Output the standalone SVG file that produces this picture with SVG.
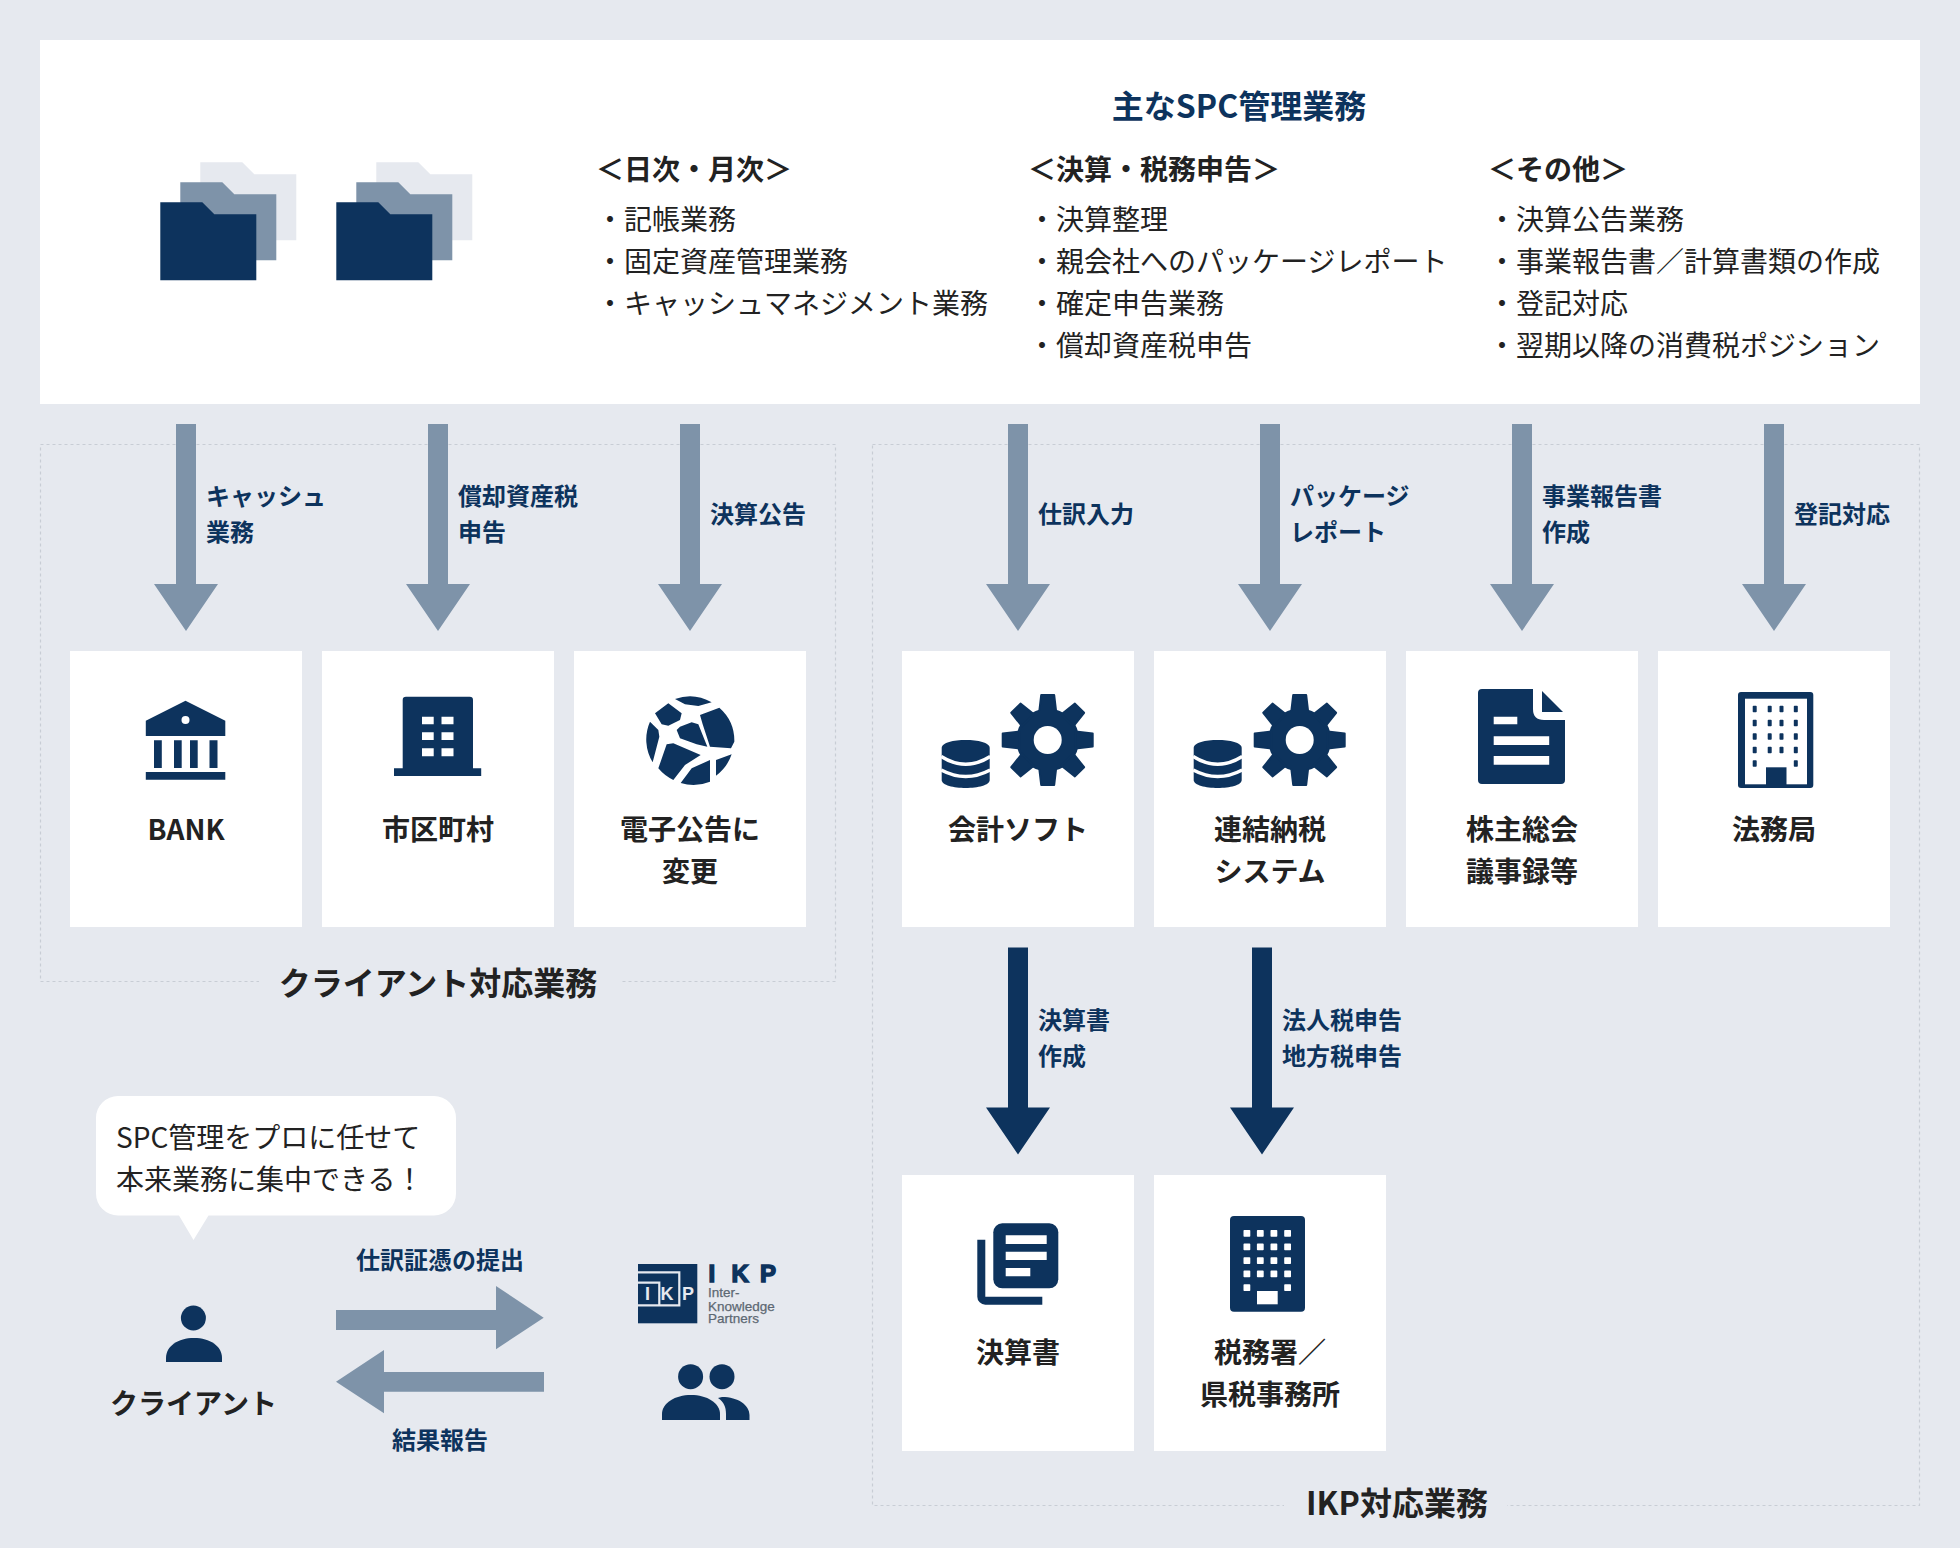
<svg xmlns="http://www.w3.org/2000/svg" width="1960" height="1548" viewBox="0 0 1960 1548">
<style>
text{font-family:"Noto Sans CJK JP","Noto Sans",sans-serif}
.navy{fill:#0d335d}.mid{fill:#7e93a9}.pale{fill:#e6e9ef}.w{fill:#fff}
.title{font-size:32px;font-weight:700;fill:#0d335d;text-anchor:middle}
.head{font-size:28px;font-weight:700;fill:#222}
.item{font-size:28px;fill:#222}
.lab{font-size:24px;font-weight:700;fill:#0d335d}
.lc{text-anchor:middle}
.name{font-size:28px;font-weight:700;fill:#222;text-anchor:middle}
.sec{font-size:32px;font-weight:700;fill:#222;text-anchor:middle}
.say{font-size:28px;fill:#222}
.dash{fill:none;stroke:#c8cdd5;stroke-width:1.2;stroke-dasharray:3 3}
.logo-line{fill:none;stroke:#e6e9ef;stroke-width:2.2}
.logo-big{font-family:"Liberation Sans",Arial,sans-serif;font-size:24px;font-weight:700;fill:#0d335d;stroke:#0d335d;stroke-width:1.5}
.logo-in{font-family:"Liberation Sans",Arial,sans-serif;font-size:18px;font-weight:700;fill:#e6e9ef}
.logo-sm{font-family:"Liberation Sans",Arial,sans-serif;font-size:13.5px;fill:#5d6873;stroke:#5d6873;stroke-width:.25}
.rw{fill:#fff;stroke:#fff;stroke-width:1.6;stroke-linejoin:round}
.rn{fill:#0d335d;stroke:#0d335d;stroke-width:1.6;stroke-linejoin:round}
</style>
<defs>
<path id="arrow" d="M-10 0H10V160H32L0 207L-32 160H-10Z"/>
<path id="folder" d="M0 0H42L54 12H96V78H0Z"/>
<g id="folders">
<use href="#folder" class="pale" x="40" y="-40"/>
<use href="#folder" class="mid" x="20" y="-20"/>
<use href="#folder" class="navy"/>
</g>
<path id="tooth" d="M-6.500 -45H6.500L8.500 -28H-8.500Z" stroke="#0d335d" stroke-width="2" stroke-linejoin="round"/>
<g id="gearcoin" class="navy">
<circle cx="0" cy="0" r="31.500"/>
<use href="#tooth"/>
<use href="#tooth" transform="rotate(45)"/>
<use href="#tooth" transform="rotate(90)"/>
<use href="#tooth" transform="rotate(135)"/>
<use href="#tooth" transform="rotate(180)"/>
<use href="#tooth" transform="rotate(225)"/>
<use href="#tooth" transform="rotate(270)"/>
<use href="#tooth" transform="rotate(315)"/>
<circle cx="0" cy="0" r="14" fill="#fff"/>
<path d="M-106 8C-106 -2.600 -58 -2.600 -58 8V40C-58 50.600 -106 50.600 -106 40Z"/>
<path d="M-106.500 16.500Q-82 32 -57.500 16.500M-106.500 30Q-82 43 -57.500 30" fill="none" stroke="#fff" stroke-width="3.400"/>
</g>
</defs>
<rect width="1960" height="1548" class="pale"/>
<g id="panel">
<rect x="40" y="40" width="1880" height="364" class="w"/>
<use href="#folders" x="160.300" y="202.300"/>
<use href="#folders" x="336.300" y="202.300"/>
<text x="1239" y="117.500" class="title">主なSPC管理業務</text>
<text x="596" y="180" class="head">＜日次・月次＞</text>
<text x="596" y="230" class="item">・記帳業務</text>
<text x="596" y="272" class="item">・固定資産管理業務</text>
<text x="596" y="314" class="item">・キャッシュマネジメント業務</text>
<text x="1028" y="180" class="head">＜決算・税務申告＞</text>
<text x="1028" y="230" class="item">・決算整理</text>
<text x="1028" y="272" class="item">・親会社へのパッケージレポート</text>
<text x="1028" y="314" class="item">・確定申告業務</text>
<text x="1028" y="356" class="item">・償却資産税申告</text>
<text x="1488" y="180" class="head">＜その他＞</text>
<text x="1488" y="230" class="item">・決算公告業務</text>
<text x="1488" y="272" class="item">・事業報告書／計算書類の作成</text>
<text x="1488" y="314" class="item">・登記対応</text>
<text x="1488" y="356" class="item">・翌期以降の消費税ポジション</text>
</g>
<g id="section-client">
<rect x="40.500" y="444.500" width="795" height="537" class="dash"/>
<rect x="259" y="970" width="362" height="24" class="pale"/>
<text x="438" y="995" class="sec">クライアント対応業務</text>
</g>
<g id="section-ikp">
<rect x="872.500" y="444.500" width="1047" height="1061" class="dash"/>
<rect x="1284" y="1494" width="223" height="24" class="pale"/>
<text x="1397" y="1515" class="sec">IKP対応業務</text>
</g>
<g id="connectors">
<use href="#arrow" class="mid" x="186" y="424"/>
<use href="#arrow" class="mid" x="438" y="424"/>
<use href="#arrow" class="mid" x="690" y="424"/>
<use href="#arrow" class="mid" x="1018" y="424"/>
<use href="#arrow" class="mid" x="1270" y="424"/>
<use href="#arrow" class="mid" x="1522" y="424"/>
<use href="#arrow" class="mid" x="1774" y="424"/>
<use href="#arrow" class="navy" x="1018" y="947.500"/>
<use href="#arrow" class="navy" x="1262" y="947.500"/>
<path class="mid" d="M336 1310H496V1286L543.700 1317.700L496 1349.300V1330H336Z"/>
<path class="mid" d="M544 1372H384V1350L336 1381.700L384 1413.300V1391.700H544Z"/>
<text class="lab" x="206" y="505">キャッシュ</text><text class="lab" x="206" y="541">業務</text>
<text class="lab" x="458" y="505">償却資産税</text><text class="lab" x="458" y="541">申告</text>
<text class="lab" x="710" y="523">決算公告</text>
<text class="lab" x="1038" y="523">仕訳入力</text>
<text class="lab" x="1290" y="505">パッケージ</text><text class="lab" x="1290" y="541">レポート</text>
<text class="lab" x="1542" y="505">事業報告書</text><text class="lab" x="1542" y="541">作成</text>
<text class="lab" x="1794" y="523">登記対応</text>
<text class="lab" x="1038" y="1029">決算書</text><text class="lab" x="1038" y="1065">作成</text>
<text class="lab" x="1282" y="1029">法人税申告</text><text class="lab" x="1282" y="1065">地方税申告</text>
<text class="lab lc" x="440" y="1269">仕訳証憑の提出</text>
<text class="lab lc" x="440" y="1449">結果報告</text>
</g>
<g id="node-bank">
<rect x="70" y="651" width="232" height="276" class="w"/>
<path class="navy" d="M145.800 736V720.700L185.500 700.700L225.300 720.700V736ZM154 740.300h7.800V768H154ZM174 740.300h7.700V768H174ZM190 740.300h7.700V768H190ZM209.500 740.300h8V768h-8ZM145.800 772h79.500v7.700h-79.500Z"/>
<circle cx="185.500" cy="720" r="4" class="w"/>
<text x="186" y="839.500" class="name">BANK</text>
</g>
<g id="node-city">
<rect x="322" y="651" width="232" height="276" class="w"/>
<path class="navy" d="M402.700 768.300V700a3.300 3.300 0 0 1 3.300-3.300H469.700a3.300 3.300 0 0 1 3.300 3.300V768.300H481.200V776H394V768.300Z"/>
<path class="w" d="M422 716.700h11.700v7.600H422ZM441.500 716.700h12v7.600h-12ZM422 732.300h11.700V740H422ZM441.500 732.300h12V740h-12ZM422 748.300h11.700v8H422ZM441.500 748.300h12v8h-12Z"/>
<text x="438" y="839.500" class="name">市区町村</text>
</g>
<g id="node-web">
<rect x="574" y="651" width="232" height="276" class="w"/>
<path class="navy" transform="translate(630 685) scale(.33333)" d="M135 42A132 132 0 0 1 245 52L205 63L165 58ZM115 55L155 85L150 105L115 122L95 118L75 85ZM210 90L268 68A132 132 0 0 1 313 170L303 190L240 185L218 118ZM150 125L185 112L205 118L232 185L200 178L150 160L140 135ZM60 110L85 135L88 155L68 232A132 132 0 0 1 60 110ZM110 178L130 175L212 210L165 240L130 285A132 132 0 0 1 85 250ZM240 225V290A132 132 0 0 1 152 294L185 250ZM305 208A132 132 0 0 1 258 272V225Z"/>
<text x="690" y="839.500" class="name">電子公告に</text>
<text x="690" y="881.500" class="name">変更</text>
</g>
<g id="node-accounting">
<rect x="902" y="651" width="232" height="276" class="w"/>
<use href="#gearcoin" x="1047.700" y="740"/>
<text x="1018" y="839.500" class="name">会計ソフト</text>
</g>
<g id="node-consolidated">
<rect x="1154" y="651" width="232" height="276" class="w"/>
<use href="#gearcoin" x="1299.700" y="740"/>
<text x="1270" y="839.500" class="name">連結納税</text>
<text x="1270" y="881.500" class="name">システム</text>
</g>
<g id="node-minutes">
<rect x="1406" y="651" width="232" height="276" class="w"/>
<path class="navy" d="M1482 689H1533V709Q1533 720 1544 720H1565V780a4 4 0 0 1-4 4H1482a4 4 0 0 1-4-4V693a4 4 0 0 1 4-4ZM1542 691L1563 712H1542Z"/>
<path class="w" d="M1493.700 716.700h23.600v7.600h-23.600ZM1493.700 736.300h55.500V745h-55.500ZM1493.700 756h55.500v8.700h-55.500Z"/>
<text x="1522" y="839.500" class="name">株主総会</text>
<text x="1522" y="881.500" class="name">議事録等</text>
</g>
<g id="node-legal">
<rect x="1658" y="651" width="232" height="276" class="w"/>
<rect x="1738" y="692" width="75.300" height="96" rx="3" class="navy"/>
<rect x="1745" y="698.700" width="62" height="85.600" class="w"/>
<path class="rn" d="M1753.500 706.500h2.400v5h-2.400ZM1768.500 706.500h2.400v5h-2.400ZM1780.300 706.500h2.400v5h-2.400ZM1794.600 706.500h2.400v5h-2.400ZM1753.500 720.500h2.400v5h-2.400ZM1768.500 720.500h2.400v5h-2.400ZM1780.300 720.500h2.400v5h-2.400ZM1794.600 720.500h2.400v5h-2.400ZM1753.500 734h2.400v5h-2.400ZM1768.500 734h2.400v5h-2.400ZM1780.300 734h2.400v5h-2.400ZM1794.600 734h2.400v5h-2.400ZM1753.500 747.500h2.400v5h-2.400ZM1768.500 747.500h2.400v5h-2.400ZM1780.300 747.500h2.400v5h-2.400ZM1794.600 747.500h2.400v5h-2.400ZM1753.500 761h2.400v5h-2.400ZM1794.600 761h2.400v5h-2.400Z"/>
<path class="navy" d="M1766 767.300h20.500V785H1766Z"/>
<text x="1774" y="839.500" class="name">法務局</text>
</g>
<g id="node-statement">
<rect x="902" y="1175" width="232" height="276" class="w"/>
<rect x="993.300" y="1223.300" width="65" height="65" rx="9" class="navy"/>
<path class="w" d="M1005.700 1235.300h41V1244h-41ZM1005.700 1251.700h41v8.300h-41ZM1005.700 1268h24.600v8.300h-24.600Z"/>
<path class="navy" d="M977.300 1239.700h8V1296.700H1042.300v8H985.300a8 8 0 0 1-8-8Z"/>
<text x="1018" y="1362.500" class="name">決算書</text>
</g>
<g id="node-tax">
<rect x="1154" y="1175" width="232" height="276" class="w"/>
<rect x="1230" y="1216" width="75" height="95.700" rx="4" class="navy"/>
<path class="rw" d="M1244.300 1230.700h5.200v5.200h-5.200ZM1257.700 1230.700h5.200v5.200h-5.200ZM1271.300 1230.700h5.200v5.200h-5.200ZM1285 1230.700h5.200v5.200h-5.200ZM1244.300 1244.300h5.200v5.200h-5.200ZM1257.700 1244.300h5.200v5.200h-5.200ZM1271.300 1244.300h5.200v5.200h-5.200ZM1285 1244.300h5.200v5.200h-5.200ZM1244.300 1258h5.200v5.200h-5.200ZM1257.700 1258h5.200v5.200h-5.200ZM1271.300 1258h5.200v5.200h-5.200ZM1285 1258h5.200v5.200h-5.200ZM1244.300 1271.300h5.200v5.200h-5.200ZM1257.700 1271.300h5.200v5.200h-5.200ZM1271.300 1271.300h5.200v5.200h-5.200ZM1285 1271.300h5.200v5.200h-5.200ZM1244.300 1285h5.200v5.200h-5.200ZM1285 1285h5.200v5.200h-5.200Z"/>
<path class="w" d="M1257 1291h20.700v13.300H1257Z"/>
<text x="1270" y="1362.500" class="name">税務署／</text>
<text x="1270" y="1404.500" class="name">県税事務所</text>
</g>
<g id="node-client">
<path class="w" d="M118 1096H434a22 22 0 0 1 22 22V1193.500a22 22 0 0 1-22 22H208.500L193.500 1240L179 1215.500H118a22 22 0 0 1-22-22V1118a22 22 0 0 1 22-22Z"/>
<text x="116" y="1148" class="say">SPC管理をプロに任せて</text>
<text x="116" y="1190" class="say">本来業務に集中できる！</text>
<circle cx="193.400" cy="1318" r="12.500" class="navy"/>
<path class="navy" d="M166 1362V1358C166 1346 178 1338 194 1338S222 1346 222 1358V1362Z"/>
<text x="193.500" y="1413.500" class="name">クライアント</text>
</g>
<g id="node-ikp">
<rect x="638" y="1264" width="59.300" height="59.300" class="navy"/>
<path class="logo-line" d="M638 1272.300H679.300V1305.300H638M638 1282.700H659.300V1305.300"/>
<text x="645" y="1300" class="logo-in">I</text>
<text x="660.500" y="1300" class="logo-in">K</text>
<text x="682" y="1300" class="logo-in">P</text>
<text class="logo-big" x="708.600 731.500 760" y="1282">IKP</text>
<text x="708" y="1297" class="logo-sm">Inter-</text>
<text x="708" y="1310.500" class="logo-sm">Knowledge</text>
<text x="708" y="1323" class="logo-sm">Partners</text>
<circle cx="690.600" cy="1376.700" r="12.500" class="navy"/>
<path class="navy" d="M662 1420V1414C662 1403 675 1395 691 1395S720 1403 720 1414V1420Z"/>
<circle cx="722" cy="1376.700" r="12.500" class="navy"/>
<path class="navy" d="M722 1397C738 1397 749.500 1405 749.500 1415V1420H726V1414C726 1407 724 1402 718 1398Z"/>
</g>
</svg>
